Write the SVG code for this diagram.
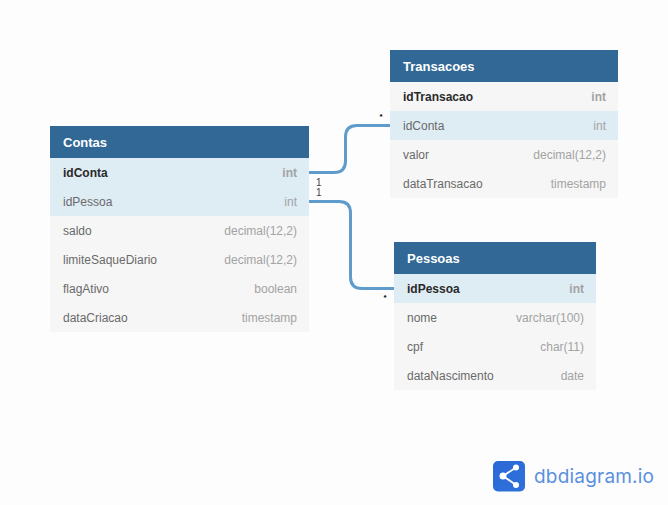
<svg xmlns="http://www.w3.org/2000/svg" width="668" height="505" viewBox="0 0 668 505">
<defs><linearGradient id="lg" x1="0" y1="0" x2="1" y2="1"><stop offset="0" stop-color="#2a68d6"/><stop offset="1" stop-color="#2f72dc"/></linearGradient></defs>
<style>
text{font-family:"Liberation Sans",Arial,sans-serif;font-size:12px}
.h{fill:#316896}.r{fill:#f6f6f6}.k{fill:#deecf4}
.t{font-weight:bold;fill:#fff;font-size:13px}
.n{fill:#6a6a6a}.p{fill:#2a2a2a;font-weight:bold}
.y{fill:#a3a3a3;text-anchor:end}.yb{fill:#a3a3a3;text-anchor:end;font-weight:bold}
.c{fill:none;stroke:#5f9bcb;stroke-width:3}
.l{font-size:10px;fill:#444}.s{font-size:8px;font-weight:bold;fill:#000}
</style>
<rect width="668" height="505" fill="#fdfdfd"/>
<g id="connectors">
<path class="c" d="M309 172.500H334Q345.500 172.500 345.500 161V137Q345.500 125.500 357 125.500H390"/>
<path class="c" d="M309 201.500H339Q350.500 201.500 350.500 213V277Q350.500 288.500 362 288.500H394"/>
<text class="l" x="316" y="185.500">1</text>
<text class="l" x="316" y="196">1</text>
<text class="s" x="379.400" y="119.300">*</text>
<text class="s" x="383.400" y="300.400">*</text>
</g>
<g id="table-contas">
<rect class="h" x="50" y="126" width="259" height="32"/>
<rect class="r" x="50" y="158" width="259" height="174"/>
<rect class="k" x="50" y="158" width="259" height="58"/>
<text class="t" x="63" y="147">Contas</text>
<text class="p" x="63" y="177">idConta</text><text class="yb" x="297" y="177">int</text>
<text class="n" x="63" y="206">idPessoa</text><text class="y" x="297" y="206">int</text>
<text class="n" x="63" y="235">saldo</text><text class="y" x="297" y="235">decimal(12,2)</text>
<text class="n" x="63" y="264">limiteSaqueDiario</text><text class="y" x="297" y="264">decimal(12,2)</text>
<text class="n" x="63" y="293">flagAtivo</text><text class="y" x="297" y="293">boolean</text>
<text class="n" x="63" y="322">dataCriacao</text><text class="y" x="297" y="322">timestamp</text>
</g>
<g id="table-transacoes">
<rect class="h" x="390" y="50" width="228" height="32"/>
<rect class="r" x="390" y="82" width="228" height="116"/>
<rect class="k" x="390" y="111" width="228" height="29"/>
<text class="t" x="403" y="71">Transacoes</text>
<text class="p" x="403" y="101">idTransacao</text><text class="yb" x="606" y="101">int</text>
<text class="n" x="403" y="130">idConta</text><text class="y" x="606" y="130">int</text>
<text class="n" x="403" y="159">valor</text><text class="y" x="606" y="159">decimal(12,2)</text>
<text class="n" x="403" y="188">dataTransacao</text><text class="y" x="606" y="188">timestamp</text>
</g>
<g id="table-pessoas">
<rect class="h" x="394" y="242" width="202" height="32"/>
<rect class="r" x="394" y="274" width="202" height="116"/>
<rect class="k" x="394" y="274" width="202" height="29"/>
<text class="t" x="407" y="263">Pessoas</text>
<text class="p" x="407" y="293">idPessoa</text><text class="yb" x="584" y="293">int</text>
<text class="n" x="407" y="322">nome</text><text class="y" x="584" y="322">varchar(100)</text>
<text class="n" x="407" y="351">cpf</text><text class="y" x="584" y="351">char(11)</text>
<text class="n" x="407" y="380">dataNascimento</text><text class="y" x="584" y="380">date</text>
</g>
<g id="logo">
<rect x="493" y="461" width="32" height="30.500" rx="5" fill="url(#lg)"/>
<path d="M516 467.500L503 476L516 485" fill="none" stroke="#fff" stroke-width="1.800"/>
<circle cx="503" cy="476" r="3.500" fill="#fff"/><circle cx="516" cy="467.500" r="3" fill="#fff"/><circle cx="516" cy="485" r="3" fill="#fff"/>
<text x="534" y="483" style="font-family:Inter,sans-serif;font-size:19px;fill:#5a90e0" textLength="120">dbdiagram.io</text>
</g>
</svg>
